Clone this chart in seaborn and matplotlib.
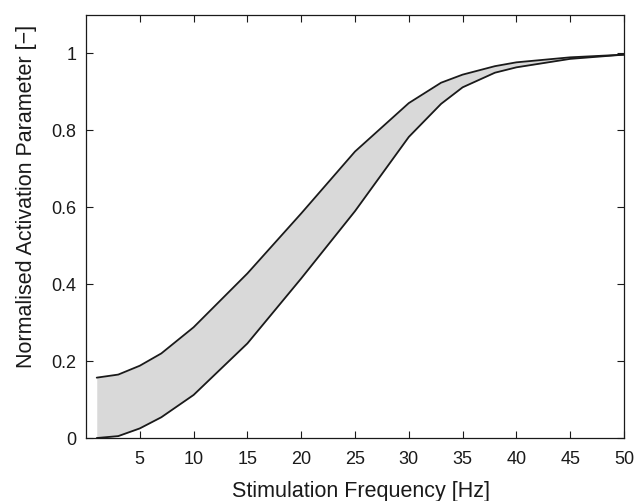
import seaborn as sns
import pandas as pd
import numpy as np
import matplotlib
matplotlib.use("Agg")
import matplotlib.pyplot as plt

freq = [1, 3, 5, 7, 10, 15, 20, 25, 30, 33, 35, 38, 40, 45, 50]
upper = [0.157, 0.165, 0.188, 0.220, 0.288, 0.428, 0.584, 0.745, 0.871,
         0.924, 0.945, 0.967, 0.977, 0.990, 0.997]
lower = [0.000, 0.005, 0.025, 0.054, 0.112, 0.246, 0.415, 0.590, 0.783,
         0.869, 0.912, 0.950, 0.964, 0.986, 0.997]
x_ticks = [5, 10, 15, 20, 25, 30, 35, 40, 45, 50]
y_ticks = [0, 0.2, 0.4, 0.6, 0.8, 1]
y_labels = ["0", "0.2", "0.4", "0.6", "0.8", "1"]

sns.set_theme(style="ticks")
plt.rcParams['font.family'] = ['Liberation Sans', 'DejaVu Sans']

df = pd.DataFrame({"freq": freq, "upper": upper, "lower": lower})

fig = plt.figure(figsize=(6.35, 5.01), dpi=100)
ax = fig.add_axes([0.1354, 0.1257, 0.8473, 0.8443])

ax.fill_between(df["freq"], df["lower"], df["upper"], color="#d9d9d9", linewidth=0)
sns.lineplot(ax=ax, data=df, x="freq", y="upper", color="#1a1a1a", linewidth=1.3)
sns.lineplot(ax=ax, data=df, x="freq", y="lower", color="#1a1a1a", linewidth=1.3)

ax.set_xlim(0, 50)
ax.set_ylim(0, 1.1)
ax.set_xticks(x_ticks)
ax.set_yticks(y_ticks)
ax.set_yticklabels(y_labels)
ax.tick_params(direction="in", length=5, width=0.8, top=True, right=True,
               labelsize=13, colors="#1a1a1a")
ax.tick_params(axis="x", pad=9)
ax.tick_params(axis="y", pad=7)
for s in ax.spines.values():
    s.set_linewidth(0.9)
    s.set_color("#1a1a1a")

ax.set_xlabel("Stimulation Frequency [Hz]", fontsize=15.5, color="#1a1a1a", labelpad=10)
ax.set_ylabel("Normalised Activation Parameter [\u2212]", fontsize=15.5, color="#1a1a1a", labelpad=10)
ax.xaxis.label.set_x(0.511)
ax.yaxis.label.set_y(0.57)

fig.savefig("out.png", dpi=100)
